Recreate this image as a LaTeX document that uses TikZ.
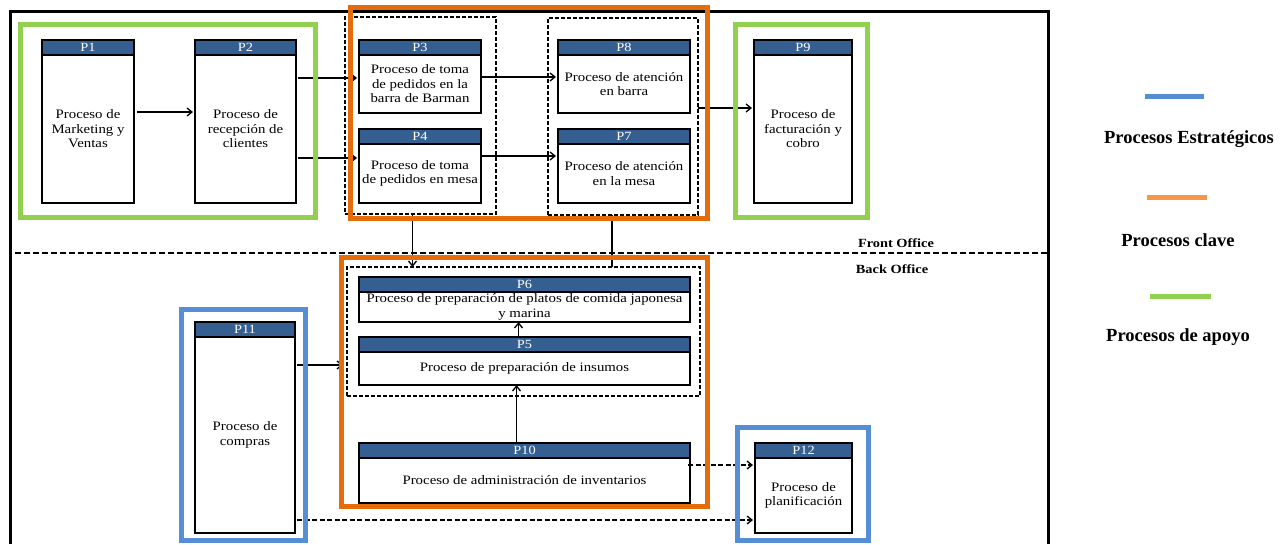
\documentclass[tikz,border=0pt]{standalone}
\usepackage{fontspec}
\setmainfont{Liberation Serif}
\newfontfamily\procfont{Liberation Serif}[FakeStretch=1.15]
\usetikzlibrary{arrows.meta,positioning,calc}
\definecolor{headblue}{RGB}{54,95,145}
\definecolor{keyorange}{RGB}{228,108,10}
\definecolor{legorange}{RGB}{247,150,70}
\definecolor{supgreen}{RGB}{146,208,80}
\definecolor{stratblue}{RGB}{85,142,213}

\begin{document}
\begin{tikzpicture}[x=1pt, y=-1pt,
  phead/.style={draw, line width=2.4pt, fill=headblue, text=white, font=\procfont\fontsize{12.5}{13}\selectfont, minimum height=15pt, inner sep=0pt, outer sep=0pt, anchor=north west},
  pbody/.style={draw, line width=2.4pt, fill=white, font=\procfont\fontsize{12.9}{14.5}\selectfont, align=center, inner sep=0pt, outer sep=0pt, below=0pt of #1},
  grp/.style={draw, dash pattern=on 4pt off 2pt, line width=1.2pt, inner sep=0pt, outer sep=0pt},
  frame/.style={line width=5pt},
  arr/.style={-{Straight Barb[length=5pt,width=8pt]}, line width=1.3pt, shorten >=2pt},
  dsh/.style={dash pattern=on 5pt off 2.5pt},
  office/.style={font=\procfont\bfseries\fontsize{12.5}{14}\selectfont},
  legend/.style={font=\bfseries\fontsize{18.5}{20}\selectfont},
  legline/.style={line width=5pt}]
\useasboundingbox (0,0) rectangle (1288,544);

\draw[line width=3pt] (10,544) -- (10,11) -- (1048,11) -- (1048,544);
\draw[dash pattern=on 6pt off 3pt, line width=1.5pt] (15,253) -- (1048,253);
\node[office] (front) at (896,243) {Front Office};
\node[office] (back) at (892,269) {Back Office};

% dashed groups
\node[grp, minimum width=151pt, minimum height=197pt] (g34) at (420.5,115.5) {};
\node[grp, minimum width=150pt, minimum height=197pt] (g78) at (623,116.5) {};
\node[grp, minimum width=353pt, minimum height=129pt] (g56) at (523.5,331.5) {};

% front office
\node[phead, minimum width=92pt] (p1h) at (42,40) {P1};
\node[pbody=p1h, minimum width=92pt, minimum height=148pt] (p1) {Proceso de\\Marketing y\\Ventas};
\node[phead, minimum width=101pt] (p2h) at (195,40) {P2};
\node[pbody=p2h, minimum width=101pt, minimum height=148pt] (p2) {Proceso de\\recepción de\\clientes};
\node[phead, minimum width=122pt] (p3h) at (359,40) {P3};
\node[pbody=p3h, minimum width=122pt, minimum height=58pt] (p3) {Proceso de toma\\de pedidos en la\\barra de Barman};
\node[phead, minimum width=122pt] (p4h) at (359,129) {P4};
\node[pbody=p4h, minimum width=122pt, minimum height=59pt] (p4) {Proceso de toma\\de pedidos en mesa};
\node[phead, minimum width=132pt] (p8h) at (558,40) {P8};
\node[pbody=p8h, minimum width=132pt, minimum height=58pt] (p8) {Proceso de atención\\en barra};
\node[phead, minimum width=132pt] (p7h) at (558,129) {P7};
\node[pbody=p7h, minimum width=132pt, minimum height=59pt] (p7) {Proceso de atención\\en la mesa};
\node[phead, minimum width=98pt] (p9h) at (754,40) {P9};
\node[pbody=p9h, minimum width=98pt, minimum height=148pt] (p9) {Proceso de\\facturación y\\cobro};

% back office
\node[phead, minimum width=331pt] (p6h) at (359,277) {P6};
\node[pbody=p6h, minimum width=331pt, minimum height=30pt] (p6) {Proceso de preparación de platos de comida japonesa\\y marina};
\node[phead, minimum width=331pt] (p5h) at (359,337) {P5};
\node[pbody=p5h, minimum width=331pt, minimum height=33pt] (p5) {Proceso de preparación de insumos};
\node[phead, minimum width=331pt] (p10h) at (359,443) {P10};
\node[pbody=p10h, minimum width=331pt, minimum height=45pt] (p10) {Proceso de administración de inventarios};
\node[phead, minimum width=100pt] (p11h) at (195,322) {P11};
\node[pbody=p11h, minimum width=100pt, minimum height=196pt] (p11) {Proceso de\\compras};
\node[phead, minimum width=97pt] (p12h) at (755,443) {P12};
\node[pbody=p12h, minimum width=97pt, minimum height=75pt] (p12) {Proceso de\\planificación};

% connectors
\draw[arr] ($(p1.east)+(3,-17)$) -- ($(p2.west)+(0,-17)$);
\draw[arr] ($(p2.east)+(2,-51)$) -- ($(p3.west)+(0,-6)$);
\draw[arr] ($(p2.east)+(2,29)$) -- ($(p4.west)+(0,-15.5)$);
\draw[arr] ($(p3.east)+(0,-7)$) -- ($(p8.west)+(0,-7)$);
\draw[arr] ($(p4.east)+(0,-17.5)$) -- ($(p7.west)+(0,-17.5)$);
\coordinate (c9) at ($(p9.west)+(0,-21)$);
\draw[arr] (g78.east |- c9) -- (c9);
\coordinate (c34) at ($(g34.south)+(-8,0)$);
\draw[arr, shorten >=0pt] (c34) -- (c34 |- g56.north);
\coordinate (c78) at ($(g78.south)+(-11,0)$);
\draw[line width=1.3pt] (c78) -- (c78 |- g56.north);
\draw[arr, shorten >=0pt] ($(p5h.north)+(-6,0)$) -- ($(p6.south)+(-6,0)$);
\draw[arr, shorten >=0pt] ($(p10h.north)+(-8,0)$) -- ($(p5.south)+(-8,0)$);
\coordinate (c11) at ($(p11.east)+(2,-70)$);
\draw[arr, shorten >=4pt] (c11) -- (c11 -| g56.west);
\draw[arr, dsh] ($(p11.east)+(2,85)$) -- ($(p12.west)+(0,24.5)$);
\draw[arr, dsh] ($(p10.east)+(-2,-15.5)$) -- ($(p12.west)+(0,-30.5)$);

% process frames
\draw[frame, supgreen] (20.5,24.5) rectangle (315.5,217.5);
\draw[frame, keyorange] (350.5,7.5) rectangle (707.5,218.5);
\draw[frame, supgreen] (735.5,24.5) rectangle (867.5,217.5);
\draw[frame, keyorange] (341.5,257.5) rectangle (707.5,506.5);
\draw[frame, stratblue] (181.5,309.5) rectangle (305.5,540.5);
\draw[frame, stratblue] (737.5,427.5) rectangle (868.5,540.5);

% legend
\draw[legline, stratblue] (1145,96) -- (1204,96);
\node[legend] (lstrat) at (1189,139) {Procesos Estratégicos};
\draw[legline, legorange] (1147,197) -- (1207,197);
\node[legend] (lkey) at (1178,240) {Procesos clave};
\draw[legline, supgreen] (1150,296) -- (1211,296);
\node[legend] (lsup) at (1178,337) {Procesos de apoyo};
\end{tikzpicture}
\end{document}
